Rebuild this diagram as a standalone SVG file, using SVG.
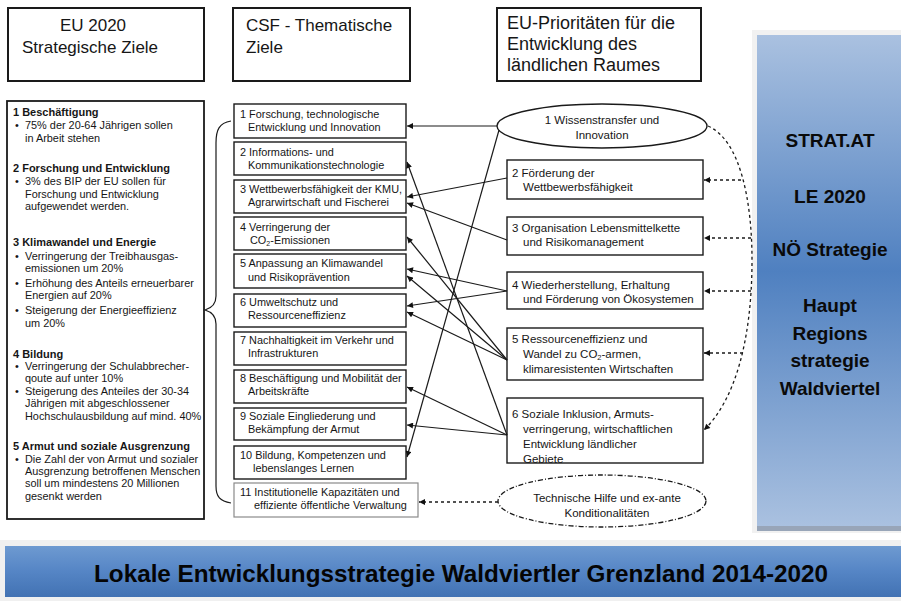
<svg xmlns="http://www.w3.org/2000/svg" width="901" height="601" viewBox="0 0 901 601">
<style>
text{font-family:"Liberation Sans",Arial,sans-serif;fill:#161616}
.hd{font-size:17px}
.hr{font-size:18px}
.l{font-size:10.9px}
.lb{font-size:11px;font-weight:bold}
.m{font-size:10.9px}
.r{font-size:11.5px}
.c{text-anchor:middle}
.pn{font-size:19px;font-weight:bold;text-anchor:middle;fill:#0a0a0a}
.box{fill:#fff;stroke:#1a1a1a;stroke-width:1.4}
.hbox{fill:#fff;stroke:#1a1a1a;stroke-width:2}
.con{stroke:#1a1a1a;stroke-width:1.2;fill:none}
.dash{stroke:#1a1a1a;stroke-width:1.3;fill:none;stroke-dasharray:3,3}
</style>
<defs>
<marker id="ah" viewBox="0 0 10 10" refX="10" refY="5" markerWidth="7" markerHeight="6" markerUnits="userSpaceOnUse" orient="auto"><path d="M0,0 L10,5 L0,10 z" fill="#111"/></marker>
<linearGradient id="pg" x1="0" y1="0" x2="0" y2="1">
<stop offset="0" stop-color="#aac1e0"/>
<stop offset="0.48" stop-color="#4f80c0"/>
<stop offset="1" stop-color="#aac1e0"/>
</linearGradient>
<linearGradient id="bg" x1="0" y1="0" x2="0" y2="1">
<stop offset="0" stop-color="#6e9ad1"/>
<stop offset="0.5" stop-color="#5585c5"/>
<stop offset="1" stop-color="#4272b3"/>
</linearGradient>
</defs>
<rect width="901" height="601" fill="#fff"/>

<!-- headers -->
<g id="h1"><rect class="hbox" x="8" y="8" width="196" height="73"/>
<text class="hd c" x="93" y="31">EU 2020</text>
<text class="hd" x="22" y="53">Strategische  Ziele</text></g>
<g id="h2"><rect class="hbox" x="233" y="8" width="177" height="73"/>
<text class="hd" x="246" y="31">CSF - Thematische</text>
<text class="hd" x="246" y="53">Ziele</text></g>
<g id="h3"><rect class="hbox" x="497" y="8" width="204" height="73"/>
<text class="hr" x="507" y="29">EU-Prioritäten für die</text>
<text class="hr" x="507" y="50">Entwicklung des</text>
<text class="hr" x="507" y="71">ländlichen  Raumes</text></g>

<!-- left box -->
<g id="eu2020">
<rect x="7" y="101" width="197" height="418" fill="#fff" stroke="#1a1a1a" stroke-width="1.8"/>
<text class="lb" x="13" y="116">1 Beschäftigung</text>
<text class="l" x="15" y="129">•</text><text class="l" x="25" y="129">75% der 20-64 Jährigen sollen</text>
<text class="l" x="25" y="142">in Arbeit stehen</text>
<text class="lb" x="13" y="172">2 Forschung und Entwicklung</text>
<text class="l" x="15" y="185">•</text><text class="l" x="25" y="185">3% des BIP der EU sollen für</text>
<text class="l" x="25" y="198">Forschung und Entwicklung</text>
<text class="l" x="25" y="210">aufgewendet werden.</text>
<text class="lb" x="13" y="246">3 Klimawandel und Energie</text>
<text class="l" x="15" y="260">•</text><text class="l" x="25" y="260">Verringerung der Treibhausgas-</text>
<text class="l" x="25" y="272">emissionen um 20%</text>
<text class="l" x="15" y="287">•</text><text class="l" x="25" y="287">Erhöhung des Anteils erneuerbarer</text>
<text class="l" x="25" y="299">Energien auf 20%</text>
<text class="l" x="15" y="314">•</text><text class="l" x="25" y="314">Steigerung der Energieeffizienz</text>
<text class="l" x="25" y="327">um 20%</text>
<text class="lb" x="13" y="358">4 Bildung</text>
<text class="l" x="15" y="370">•</text><text class="l" x="25" y="370">Verringerung der Schulabbrecher-</text>
<text class="l" x="25" y="382">qoute auf unter 10%</text>
<text class="l" x="15" y="395">•</text><text class="l" x="25" y="395">Steigerung des Anteiles der 30-34</text>
<text class="l" x="25" y="407">Jährigen mit abgeschlossener</text>
<text class="l" x="25" y="420">Hochschulausbildung  auf mind. 40%</text>
<text class="lb" x="13" y="450">5 Armut und soziale Ausgrenzung</text>
<text class="l" x="15" y="463">•</text><text class="l" x="25" y="463">Die Zahl der von Armut und sozialer</text>
<text class="l" x="25" y="475">Ausgrenzung  betroffenen Menschen</text>
<text class="l" x="25" y="487">soll um mindestens 20 Millionen</text>
<text class="l" x="25" y="500">gesenkt werden</text>
</g>

<!-- middle boxes -->
<g id="m1"><rect class="box" x="234" y="104" width="172" height="34"/>
<text class="m" x="240" y="118">1 Forschung, technologische</text>
<text class="m" x="248" y="131">Entwicklung und Innovation</text></g>
<g id="m2"><rect class="box" x="234" y="142" width="172" height="33"/>
<text class="m" x="240" y="156">2 Informations- und</text>
<text class="m" x="248" y="169">Kommunikationstechnologie</text></g>
<g id="m3"><rect class="box" x="234" y="180" width="172" height="33" stroke-width="1.9"/>
<text class="m" x="240" y="193">3 Wettbewerbsfähigkeit der KMU,</text>
<text class="m" x="248" y="206">Agrarwirtschaft und Fischerei</text></g>
<g id="m4"><rect class="box" x="234" y="217" width="172" height="33"/>
<text class="m" x="240" y="231">4 Verringerung der</text>
<text class="m" x="250" y="244">CO<tspan font-size="7" dy="2">2</tspan><tspan dy="-2">-Emissionen</tspan></text></g>
<g id="m5"><rect class="box" x="234" y="254" width="172" height="34"/>
<text class="m" x="240" y="267">5 Anpassung an Klimawandel</text>
<text class="m" x="248" y="281">und Risikoprävention</text></g>
<g id="m6"><rect class="box" x="234" y="294" width="172" height="33"/>
<text class="m" x="240" y="306">6 Umweltschutz und</text>
<text class="m" x="248" y="319">Ressourceneffizienz</text></g>
<g id="m7"><rect class="box" x="234" y="332" width="172" height="33"/>
<text class="m" x="240" y="344">7 Nachhaltigkeit im Verkehr und</text>
<text class="m" x="248" y="357">Infrastrukturen</text></g>
<g id="m8"><rect class="box" x="234" y="370" width="172" height="33"/>
<text class="m" x="240" y="382">8 Beschäftigung und Mobilität der</text>
<text class="m" x="248" y="395">Arbeitskräfte</text></g>
<g id="m9"><rect class="box" x="234" y="408" width="172" height="32" stroke-width="1.7"/>
<text class="m" x="240" y="420">9 Soziale Eingliederung und</text>
<text class="m" x="248" y="433">Bekämpfung der Armut</text></g>
<g id="m10"><rect class="box" x="234" y="446" width="172" height="33" stroke-width="1.7"/>
<text class="m" x="240" y="459">10 Bildung, Kompetenzen und</text>
<text class="m" x="253" y="472">lebenslanges Lernen</text></g>
<g id="m11"><rect x="234" y="483" width="184" height="34" fill="#fff" stroke="#8a8a8a" stroke-width="1.2"/>
<text class="m" x="240" y="496">11 Institutionelle Kapazitäten und</text>
<text class="m" x="254" y="509">effiziente öffentliche Verwaltung</text></g>

<!-- right column -->
<g id="r1"><ellipse cx="602" cy="126" rx="105" ry="22" fill="#fff" stroke="#1a1a1a" stroke-width="1.4"/>
<text class="r c" x="602" y="124">1 Wissenstransfer und</text>
<text class="r c" x="602" y="139">Innovation</text></g>
<g id="r2"><rect class="box" x="507" y="160" width="196" height="39"/>
<text class="r" x="512" y="177">2 Förderung der</text>
<text class="r" x="523" y="191">Wettbewerbsfähigkeit</text></g>
<g id="r3"><rect class="box" x="507" y="217" width="196" height="38"/>
<text class="r" x="512" y="232">3 Organisation Lebensmittelkette</text>
<text class="r" x="523" y="246">und Risikomanagement</text></g>
<g id="r4"><rect class="box" x="507" y="272" width="196" height="37"/>
<text class="r" x="512" y="289">4 Wiederherstellung, Erhaltung</text>
<text class="r" x="523" y="303">und Förderung von Ökosystemen</text></g>
<g id="r5"><rect class="box" x="507" y="328" width="196" height="52"/>
<text class="r" x="512" y="343">5 Ressourceneffizienz und</text>
<text class="r" x="523" y="358">Wandel zu CO<tspan font-size="7.5" dy="2">2</tspan><tspan dy="-2">-armen,</tspan></text>
<text class="r" x="523" y="373">klimaresistenten Wirtschaften</text></g>
<g id="r6"><rect class="box" x="507" y="398" width="196" height="65"/>
<text class="r" x="512" y="418">6 Soziale Inklusion, Armuts-</text>
<text class="r" x="523" y="433">verringerung, wirtschaftlichen</text>
<text class="r" x="523" y="448">Entwicklung ländlicher</text>
<text class="r" x="523" y="463">Gebiete</text></g>
<g id="r7"><ellipse cx="602" cy="501" rx="104" ry="26" fill="#fff" stroke="#1a1a1a" stroke-width="1.3" stroke-dasharray="5,2,1,2"/>
<text class="r c" x="607" y="502">Technische Hilfe und ex-ante</text>
<text class="r c" x="607" y="517">Konditionalitäten</text></g>

<!-- side panel -->
<g id="panel">
<rect x="752" y="30" width="149" height="503" fill="#f1f1f1"/>
<rect x="757" y="35" width="144" height="492" fill="url(#pg)"/>
<rect x="757" y="526" width="144" height="5" fill="#98a5b8"/>
<text class="pn" x="830" y="147">STRAT.AT</text>
<text class="pn" x="830" y="203">LE 2020</text>
<text class="pn" x="830" y="256">NÖ Strategie</text>
<text class="pn" x="830" y="312">Haupt</text>
<text class="pn" x="830" y="340">Regions</text>
<text class="pn" x="830" y="367">strategie</text>
<text class="pn" x="830" y="395">Waldviertel</text>
</g>

<!-- banner -->
<g id="banner">
<rect x="0" y="540" width="901" height="61" fill="#f0f0f0"/>
<rect x="5" y="546" width="896" height="51" fill="url(#bg)"/>
<text x="461" y="582" font-size="24" font-weight="bold" text-anchor="middle" textLength="734" lengthAdjust="spacingAndGlyphs" style="fill:#050505">Lokale Entwicklungsstrategie Waldviertler Grenzland 2014-2020</text>
</g>

<!-- connectors -->
<g id="connectors">
<path class="con" d="M231,121 C219,123 216,130 216,143 L216,296 C216,304 212,308 205,310 C212,312 216,316 216,324 L216,486 C216,497 220,501 231,503"/>
<line class="con" x1="497" y1="126" x2="407" y2="126" marker-end="url(#ah)"/>
<line class="con" x1="499" y1="130" x2="407" y2="457" marker-end="url(#ah)"/>
<line class="con" x1="507" y1="178" x2="407" y2="197" marker-end="url(#ah)"/>
<line class="con" x1="507" y1="240" x2="407" y2="203" marker-end="url(#ah)"/>
<line class="con" x1="507" y1="291" x2="407" y2="269" marker-end="url(#ah)"/>
<line class="con" x1="507" y1="291" x2="407" y2="306" marker-end="url(#ah)"/>
<line class="con" x1="507" y1="360" x2="407" y2="237" marker-end="url(#ah)"/>
<line class="con" x1="507" y1="360" x2="407" y2="276" marker-end="url(#ah)"/>
<line class="con" x1="507" y1="360" x2="407" y2="312" marker-end="url(#ah)"/>
<line class="con" x1="507" y1="435" x2="407" y2="162" marker-end="url(#ah)"/>
<line class="con" x1="507" y1="435" x2="407" y2="387" marker-end="url(#ah)"/>
<line class="con" x1="507" y1="435" x2="407" y2="425" marker-end="url(#ah)"/>
<line class="dash" x1="498" y1="502" x2="419" y2="502" marker-end="url(#ah)"/>
<path class="dash" d="M708,126 C740,140 752,200 752,260 C752,340 735,400 704,430" marker-end="url(#ah)"/>
<line class="dash" x1="741" y1="180" x2="704" y2="180" marker-end="url(#ah)"/>
<line class="dash" x1="751" y1="238" x2="704" y2="238" marker-end="url(#ah)"/>
<line class="dash" x1="751" y1="291" x2="704" y2="291" marker-end="url(#ah)"/>
<line class="dash" x1="743" y1="353" x2="704" y2="353" marker-end="url(#ah)"/>
</g>
</svg>
